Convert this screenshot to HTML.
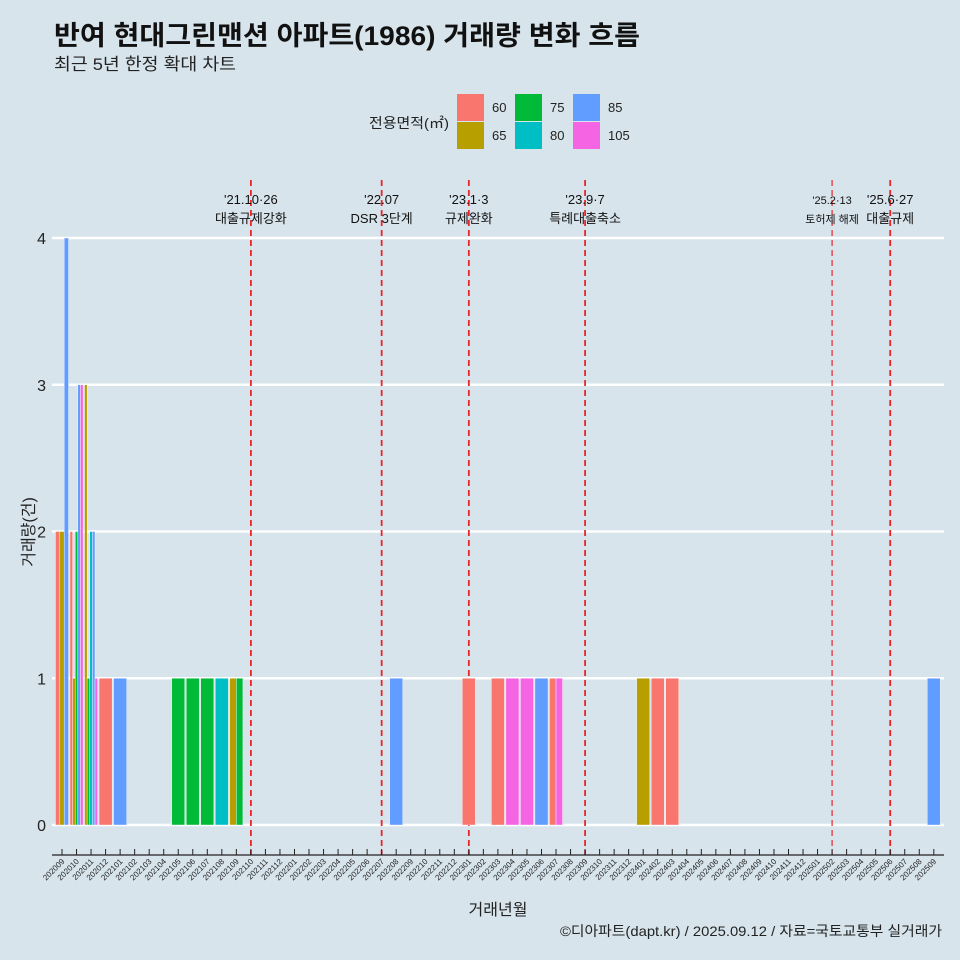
<!DOCTYPE html>
<html><head><meta charset="utf-8"><style>
body{margin:0;background:#d7e4ec;}
svg{display:block;font-family:"Liberation Sans","Noto Sans CJK KR",sans-serif;}
</style></head><body>
<svg id="chart" width="960" height="960" viewBox="0 0 960 960">
<rect width="960" height="960" fill="#d7e4ec"/>
<text x="54" y="45" font-size="27" font-weight="bold" fill="#111" textLength="586" lengthAdjust="spacingAndGlyphs">반여 현대그린맨션 아파트(1986) 거래량 변화 흐름</text>
<text x="54" y="70" font-size="17" fill="#222" textLength="182" lengthAdjust="spacingAndGlyphs">최근 5년 한정 확대 차트</text>
<g id="legend">
<text x="369" y="128" font-size="14" fill="#222" textLength="80" lengthAdjust="spacingAndGlyphs">전용면적(㎡)</text>
</g>
<g id="grid"></g><g id="events"></g><g id="bars"></g><g id="axes"></g>
<text x="498" y="915" font-size="16" text-anchor="middle" fill="#222">거래년월</text>
<text transform="translate(34,532) rotate(-90)" font-size="16" text-anchor="middle" fill="#222">거래량(건)</text>
<text x="942" y="936" font-size="14" text-anchor="end" fill="#222" textLength="382" lengthAdjust="spacingAndGlyphs">©디아파트(dapt.kr) / 2025.09.12 / 자료=국토교통부 실거래가</text>
</svg>
<script>
const months=[];for(let y=2020,m=9;!(y===2025&&m===10);){months.push(y+String(m).padStart(2,'0'));m++;if(m>12){m=1;y++;}}
const areas=["60","65","75","80","85","105"];
const colors=["#F8766D","#B79F00","#00BA38","#00BFC4","#619CFF","#F564E3"];
const yTicks=[0,1,2,3,4];
const txMonths=["202009","202009","202009","202010","202010","202010","202010","202010","202011","202011","202011","202011","202011","202012","202101","202105","202106","202107","202108","202109","202109","202208","202301","202303","202304","202305","202306","202307","202307","202401","202402","202403","202509"];
const txAreas=["60","65","85","60","65","75","85","105","65","75","80","85","105","60","85","75","75","75","80","65","75","85","60","60","105","105","85","60","105","65","60","60","85"];
const txCounts=[2,2,4,2,1,2,3,3,3,1,2,2,1,1,1,1,1,1,1,1,1,1,1,1,1,1,1,1,1,1,1,1,1];
const eventMonths=["202110","202207","202301","202309","202502","202506"];
const eventLine1=["'21.10·26","'22.07","'23.1·3","'23.9·7","'25.2·13","'25.6·27"];
const eventLine2=["대출규제강화","DSR 3단계","규제완화","특례대출축소","토허제 해제","대출규제"];
const NS="http://www.w3.org/2000/svg";
const X0=62,STEP=14.53,Y0=825,YU=146.75;
const xS=m=>X0+months.indexOf(m)*STEP;
const yS=v=>Y0-v*YU;
function mk(tag,attrs,parent){const e=document.createElementNS(NS,tag);for(const k in attrs)e.setAttribute(k,attrs[k]);document.getElementById(parent).appendChild(e);return e;}
areas.forEach((a,i)=>{const col=Math.floor(i/2),row=i%2;
 const r=mk('rect',{x:457+col*58,y:94+row*28,width:27,height:27,fill:colors[i]},'legend');
 
 
 const t=mk('text',{x:492+col*58,y:112+row*28,'font-size':13,fill:'#222'},'legend');t.textContent=a;
 
 
});
yTicks.forEach(v=>{const l=mk('line',{x1:52,x2:944,y1:yS(v),y2:yS(v),stroke:'#fff','stroke-width':2.5},'grid');
 
 
 const t=mk('text',{x:46,y:yS(v)+6,'font-size':16,'text-anchor':'end',fill:'#222'},'axes');t.textContent=v;
 
 
});
const groups={};txMonths.forEach((m,i)=>{(groups[m]=groups[m]||[]).push(i);});
Object.keys(groups).forEach(m=>{const idx=groups[m];const total=STEP*0.9;const w=total/idx.length;const left=xS(m)-total/2;
 idx.forEach((i,j)=>{const r=mk('rect',{x:left+j*w,y:yS(txCounts[i]),width:w,height:txCounts[i]*YU,fill:colors[areas.indexOf(txAreas[i])],stroke:'#fff','stroke-width':0.4},'bars');
  
  
 });
});
eventMonths.forEach((m,i)=>{const x=xS(m);
 const l=mk('line',{x1:x,x2:x,y1:180,y2:855,stroke:'#e8262a','stroke-width':i===4?1.2:1.8,'stroke-dasharray':'6,4'},'events');
 
 
 const fs=i===4?11:13;
 const t1=mk('text',{x:x,y:204,'font-size':fs,'text-anchor':'middle',fill:'#111'},'events');t1.textContent=eventLine1[i];
 
 
 const t2=mk('text',{x:x,y:223,'font-size':fs,'text-anchor':'middle',fill:'#111'},'events');t2.textContent=eventLine2[i];
 
 
});
const ax=mk('line',{x1:52,x2:944,y1:855,y2:855,stroke:'#222','stroke-width':1.2},'axes');


months.forEach(m=>{const x=xS(m);
 const tk=mk('line',{x1:x,x2:x,y1:849,y2:855,stroke:'#222','stroke-width':1},'axes');
 
 
 const t=mk('text',{transform:`translate(${x+3},${862}) rotate(-45)`,'font-size':8,'text-anchor':'end',fill:'#222'},'axes');t.textContent=m;
 
 
});
</script>
</body></html>
